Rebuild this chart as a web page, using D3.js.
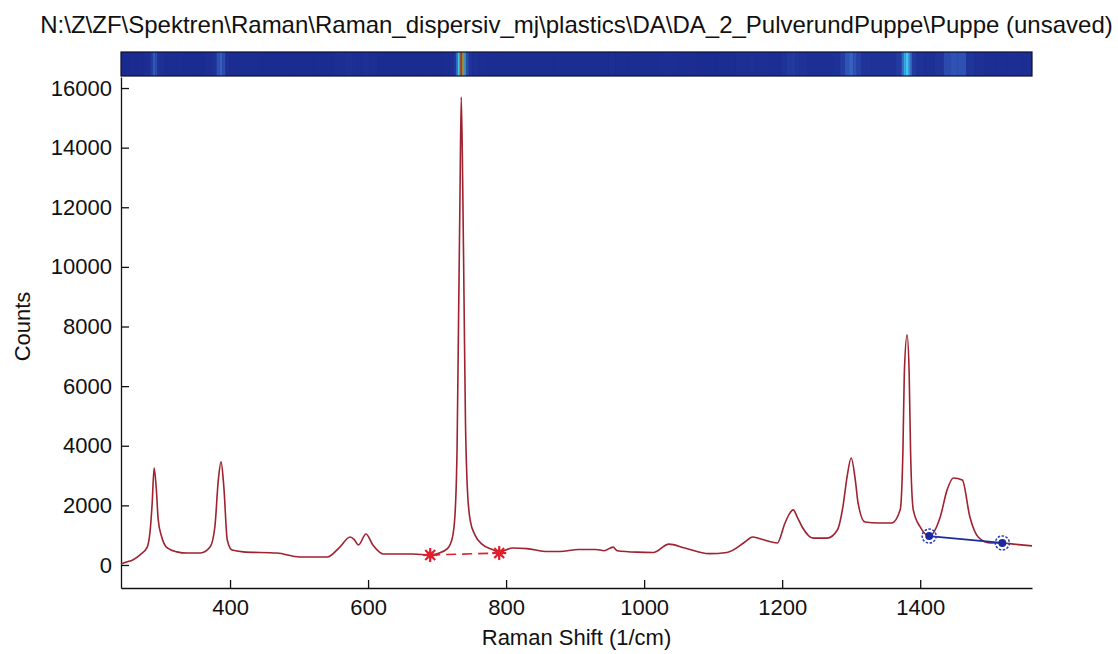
<!DOCTYPE html>
<html>
<head>
<meta charset="utf-8">
<script src="https://cdn.jsdelivr.net/npm/d3@7"></script>
<style>
  body { margin: 0; background: #fff; }
  svg { display: block; }
  text { font-family: "Liberation Sans", Arial, sans-serif; fill: #111; }
</style>
</head>
<body>
<div id="chart-container"></div>
<script>
const chartTitle = 'N:\\Z\\ZF\\Spektren\\Raman\\Raman_dispersiv_mj\\plastics\\DA\\DA_2_PulverundPuppe\\Puppe (unsaved)';
const xLabel = 'Raman Shift (1/cm)';
const yLabel = 'Counts';

// spectrum
const ramanShift = [242, 250, 259, 270, 280, 284, 287, 290, 293, 296, 301, 309, 323, 338, 357, 371, 378, 383, 387, 391,
  396, 403, 419, 468, 501, 541, 559, 574, 580, 586, 597, 607, 622, 665, 690, 700, 715, 722, 726, 729,
  731, 733, 735, 737, 739, 741, 744, 748, 755, 765, 780, 790, 809, 830, 860, 878, 905, 930, 942, 955,
  961, 990, 1013, 1036, 1059, 1094, 1120, 1146, 1157, 1168, 1193, 1204, 1210, 1216, 1222, 1229, 1245, 1265, 1280, 1288,
  1294, 1300, 1306, 1310, 1320, 1340, 1359, 1371, 1375, 1377, 1381, 1384, 1386, 1390, 1400, 1413, 1429, 1439, 1448, 1461,
  1472, 1484, 1501, 1519, 1535, 1562];
const counts = [30, 100, 170, 350, 600, 1100, 2000, 3250, 2600, 1500, 940, 570, 440, 400, 400, 600, 1275, 2850, 3460, 2620,
  840, 500, 440, 400, 270, 270, 600, 940, 850, 670, 1040, 670, 370, 370, 335, 380, 550, 900, 1700, 4000,
  8000, 12000, 15700, 13000, 9000, 5000, 2500, 1500, 1000, 700, 520, 430, 570, 550, 450, 450, 520, 520, 480, 600,
  480, 430, 420, 700, 570, 380, 420, 770, 940, 880, 740, 1400, 1700, 1850, 1600, 1275, 900, 900, 1175, 1950,
  2950, 3590, 2850, 2080, 1440, 1410, 1410, 1850, 3860, 6440, 7720, 6440, 3860, 1850, 1275, 970, 1610, 2520, 2920, 2850,
  1610, 940, 740, 740, 700, 640];

// region markers
const redStarShift = [690, 790];
const redStarCounts = [335, 400];
const blueDotShift = [1413, 1519];
const blueDotCounts = [970, 740];

const xTicks = [400, 600, 800, 1000, 1200, 1400];
const yTicks = [0, 2000, 4000, 6000, 8000, 10000, 12000, 14000, 16000];

const chartWidth = 1118;
const chartHeight = 654;
const plot = { left: 121, right: 1032, top: 77, bottom: 588 };
const strip = { top: 52, bottom: 76 };

const svg = d3.select('#chart-container')
  .append('svg')
  .attr('width', chartWidth)
  .attr('height', chartHeight);

const xScale = d3.scaleLinear().domain([242, 1562]).range([plot.left, plot.right]);
const yScale = d3.scaleLinear().domain([-772, 16370]).range([plot.bottom, plot.top]);

// Title
svg.append('text')
  .attr('x', (plot.left + plot.right) / 2)
  .attr('y', 33)
  .attr('text-anchor', 'middle')
  .style('font-size', '24px')
  .text(chartTitle);

// Colour strip on top (spectrum as an image row)
const stripColor = d3.scaleLinear()
  .domain([0, 1500, 3500, 7700, 11000, 15700])
  .range(['#1a2a8e', '#1f3398', '#3660c0', '#3cc8f0', '#70d040', '#e02020']);

svg.append('rect')
  .attr('x', plot.left).attr('y', strip.top)
  .attr('width', plot.right - plot.left).attr('height', strip.bottom - strip.top)
  .attr('fill', '#1a2a8e');

svg.append('g')
  .selectAll('rect')
  .data(ramanShift)
  .join('rect')
  .attr('x', (d, i) => xScale(i === 0 ? d : (d + ramanShift[i - 1]) / 2))
  .attr('width', (d, i) => {
    const a = i === 0 ? d : (d + ramanShift[i - 1]) / 2;
    const b = i === ramanShift.length - 1 ? d : (d + ramanShift[i + 1]) / 2;
    return Math.max(0, xScale(b) - xScale(a));
  })
  .attr('y', strip.top)
  .attr('height', strip.bottom - strip.top)
  .attr('fill', (d, i) => stripColor(counts[i]));

svg.append('rect')
  .attr('x', plot.left).attr('y', strip.top)
  .attr('width', plot.right - plot.left).attr('height', strip.bottom - strip.top)
  .attr('fill', 'none')
  .attr('stroke', '#0a0f30')
  .attr('stroke-width', 1.2);

// Axes (ticks pointing inward)
const xAxis = d3.axisBottom(xScale).tickValues(xTicks).tickFormat(d3.format('d'))
  .tickSizeInner(-8).tickSizeOuter(0).tickPadding(11);
const yAxis = d3.axisLeft(yScale).tickValues(yTicks).tickFormat(d3.format('d'))
  .tickSizeInner(-8).tickSizeOuter(0).tickPadding(9);

const gx = svg.append('g')
  .attr('id', 'x-axis')
  .attr('transform', `translate(0,${plot.bottom})`)
  .call(xAxis);
const gy = svg.append('g')
  .attr('id', 'y-axis')
  .attr('transform', `translate(${plot.left},0)`)
  .call(yAxis);

[gx, gy].forEach((g) => {
  g.selectAll('path, line').attr('stroke', '#111').attr('stroke-width', 1.3);
  g.selectAll('text').style('font-size', '22px').attr('fill', '#111');
});

// Axis labels
svg.append('text')
  .attr('x', (plot.left + plot.right) / 2)
  .attr('y', 645)
  .attr('text-anchor', 'middle')
  .style('font-size', '22px')
  .text(xLabel);

svg.append('text')
  .attr('transform', `translate(30,${(plot.top + plot.bottom) / 2 - 6}) rotate(-90)`)
  .attr('text-anchor', 'middle')
  .style('font-size', '22px')
  .text(yLabel);

// Spectrum
const line = d3.line()
  .x((d, i) => xScale(ramanShift[i]))
  .y((d) => yScale(d))
  .curve(d3.curveMonotoneX);

svg.append('path')
  .datum(counts)
  .attr('fill', 'none')
  .attr('stroke', '#9e2230')
  .attr('stroke-width', 1.6)
  .attr('d', line);

// red dashed baseline with asterisk ends
svg.append('path')
  .datum(redStarCounts)
  .attr('fill', 'none')
  .attr('stroke', '#e02030')
  .attr('stroke-width', 1.6)
  .attr('stroke-dasharray', '10,6')
  .attr('d', d3.line().x((d, i) => xScale(redStarShift[i])).y((d) => yScale(d)));

// asterisk markers: four crossing strokes
const stars = svg.append('g')
  .selectAll('g')
  .data(redStarCounts)
  .join('g')
  .attr('transform', (d, i) => `translate(${xScale(redStarShift[i])},${yScale(d)})`);
[0, 45, 90, 135].forEach((angle) => {
  stars.append('line')
    .attr('x1', -7).attr('x2', 7)
    .attr('transform', `rotate(${angle})`)
    .attr('stroke', '#e0202e')
    .attr('stroke-width', 2.2);
});
stars.append('circle')
  .attr('r', 3.5)
  .attr('fill', '#e0202e');

// blue baseline with circle ends
svg.append('path')
  .datum(blueDotCounts)
  .attr('fill', 'none')
  .attr('stroke', '#1a2aa0')
  .attr('stroke-width', 1.8)
  .attr('d', d3.line().x((d, i) => xScale(blueDotShift[i])).y((d) => yScale(d)));

const dots = svg.append('g')
  .selectAll('g')
  .data(blueDotCounts)
  .join('g')
  .attr('transform', (d, i) => `translate(${xScale(blueDotShift[i])},${yScale(d)})`);

dots.append('circle')
  .attr('r', 7)
  .attr('fill', 'none')
  .attr('stroke', '#2a3ab8')
  .attr('stroke-width', 1.5)
  .attr('stroke-dasharray', '2.5,1.5');
dots.append('circle')
  .attr('r', 4)
  .attr('fill', '#1a2aa0');
</script>
</body>
</html>
